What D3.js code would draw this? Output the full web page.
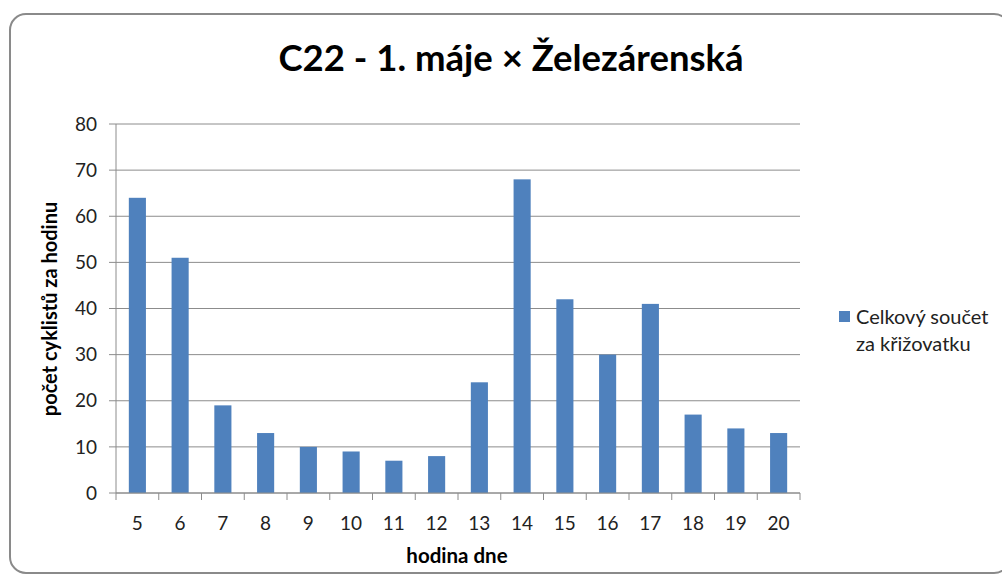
<!DOCTYPE html>
<html>
<head>
<meta charset="utf-8">
<script src="https://cdn.jsdelivr.net/npm/d3@7"></script>
<style>
  body { margin: 0; background: #fff; }
  text { font-family: Lato, "Open Sans", sans-serif; fill: #222; }
</style>
</head>
<body>
<script>
const hours = ['5', '6', '7', '8', '9', '10', '11', '12', '13', '14', '15', '16', '17', '18', '19', '20'];
const counts = [64, 51, 19, 13, 10, 9, 7, 8, 24, 68, 42, 30, 41, 17, 14, 13];
const yTicks = [0, 10, 20, 30, 40, 50, 60, 70, 80];

const width = 1002, height = 575;
const margin = { left: 116, right: 202, top: 124, bottom: 82 };

const svg = d3.select('body').append('svg')
  .attr('width', width)
  .attr('height', height);

// outer frame
svg.append('rect')
  .attr('x', 10).attr('y', 14)
  .attr('width', 1000).attr('height', 559)
  .attr('rx', 16)
  .attr('fill', '#fff')
  .attr('stroke', '#8a8a8a')
  .attr('stroke-width', 2);

const x = d3.scaleBand()
  .domain(hours)
  .range([margin.left, width - margin.right])
  .paddingInner(0.6)
  .paddingOuter(0.3);

const y = d3.scaleLinear()
  .domain([0, 80])
  .range([height - margin.bottom, margin.top]);

// gridlines
svg.append('g')
  .selectAll('line')
  .data(yTicks)
  .enter()
  .append('line')
  .attr('x1', margin.left - 7)
  .attr('x2', width - margin.right)
  .attr('y1', (d) => y(d))
  .attr('y2', (d) => y(d))
  .attr('stroke', '#8c8c8c')
  .attr('stroke-width', 1);

// y tick labels
svg.append('g')
  .selectAll('text')
  .data(yTicks)
  .enter()
  .append('text')
  .attr('x', margin.left - 19)
  .attr('y', (d) => y(d))
  .attr('dy', '0.35em')
  .attr('text-anchor', 'end')
  .style('font-size', '19px')
  .text((d) => d);

// bars
svg.append('g')
  .selectAll('rect')
  .data(counts)
  .enter()
  .append('rect')
  .attr('x', (d, i) => x(hours[i]))
  .attr('y', (d) => y(d))
  .attr('width', x.bandwidth())
  .attr('height', (d) => y(0) - y(d))
  .attr('fill', '#4f81bd');

// y axis line
svg.append('line')
  .attr('x1', margin.left).attr('x2', margin.left)
  .attr('y1', y(80)).attr('y2', y(0))
  .attr('stroke', '#8c8c8c');

// x axis with ticks between categories
const xAxisG = svg.append('g');
xAxisG.append('line')
  .attr('x1', margin.left).attr('x2', width - margin.right)
  .attr('y1', y(0)).attr('y2', y(0))
  .attr('stroke', '#8c8c8c');
xAxisG.selectAll('.tick')
  .data(d3.range(hours.length + 1))
  .enter()
  .append('line')
  .attr('x1', (d) => margin.left + d * x.step())
  .attr('x2', (d) => margin.left + d * x.step())
  .attr('y1', y(0))
  .attr('y2', y(0) + 7)
  .attr('stroke', '#8c8c8c');
xAxisG.selectAll('text')
  .data(hours)
  .enter()
  .append('text')
  .attr('x', (d) => x(d) + x.bandwidth() / 2)
  .attr('y', y(0) + 37)
  .attr('text-anchor', 'middle')
  .style('font-size', '19px')
  .text((d) => d);

// title
svg.append('text')
  .attr('x', 511).attr('y', 71)
  .attr('text-anchor', 'middle')
  .style('font-size', '36.5px')
  .style('font-weight', 'bold')
  .style('fill', '#000')
  .text('C22 - 1. máje × Železárenská');

// axis titles
svg.append('text')
  .attr('x', 457).attr('y', 563)
  .attr('text-anchor', 'middle')
  .style('font-size', '20.5px')
  .style('font-weight', 'bold')
  .style('fill', '#000')
  .text('hodina dne');

svg.append('text')
  .attr('transform', 'translate(57,309) rotate(-90)')
  .attr('text-anchor', 'middle')
  .style('font-size', '20px')
  .style('font-weight', 'bold')
  .style('fill', '#000')
  .text('počet cyklistů za hodinu');

// legend
const legend = svg.append('g');
legend.append('rect')
  .attr('x', 839).attr('y', 311)
  .attr('width', 11).attr('height', 11)
  .attr('fill', '#4f81bd');
legend.append('text')
  .attr('x', 856).attr('y', 324)
  .style('font-size', '20px')
  .text('Celkový součet');
legend.append('text')
  .attr('x', 856).attr('y', 351)
  .style('font-size', '20px')
  .text('za křižovatku');
</script>
</body>
</html>
